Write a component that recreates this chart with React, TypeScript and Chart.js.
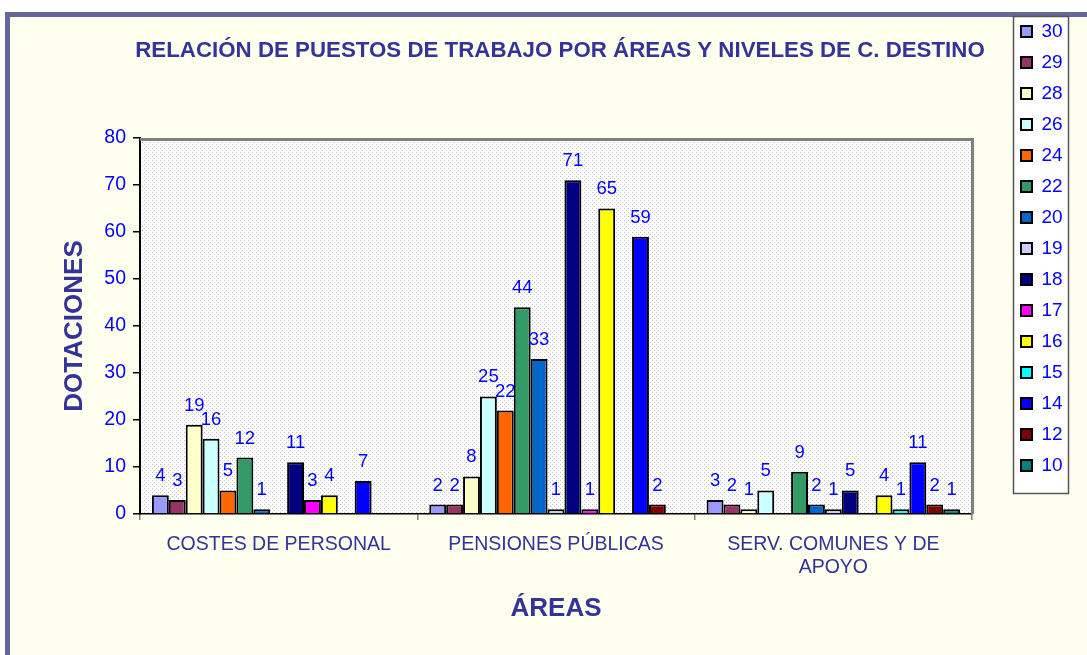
import React, { useEffect, useRef } from "react";
import { Chart, registerables } from "chart.js";

Chart.register(...registerables);

// ---- data ----
const categories: (string | string[])[] = [
  "COSTES DE PERSONAL",
  "PENSIONES PÚBLICAS",
  ["SERV. COMUNES Y DE", "APOYO"],
];
const seriesNames = ["30", "29", "28", "26", "24", "22", "20", "19", "18", "17", "16", "15", "14", "12", "10"];
const n30 = [4, 2, 3];
const n29 = [3, 2, 2];
const n28 = [19, 8, 1];
const n26 = [16, 25, 5];
const n24 = [5, 22, 0];
const n22 = [12, 44, 9];
const n20 = [1, 33, 2];
const n19 = [0, 1, 1];
const n18 = [11, 71, 5];
const n17 = [3, 1, 0];
const n16 = [4, 65, 4];
const n15 = [0, 0, 1];
const n14 = [7, 59, 11];
const n12 = [0, 2, 2];
const n10 = [0, 0, 1];
const seriesValues = [n30, n29, n28, n26, n24, n22, n20, n19, n18, n17, n16, n15, n14, n12, n10];
const seriesColors = [
  "#9999FF", "#993366", "#FFFFCC", "#CCFFFF", "#FF6600", "#339966", "#0066CC", "#CCCCFF",
  "#000080", "#FF00FF", "#FFFF00", "#00FFFF", "#0000FF", "#800000", "#008080",
];
const yMin = 0;
const yMax = 80;
const yStep = 10;

const TITLE = "RELACIÓN DE PUESTOS DE TRABAJO POR ÁREAS Y NIVELES DE C. DESTINO";
const Y_TITLE = "DOTACIONES";
const X_TITLE = "ÁREAS";

const FONT = "'Liberation Sans', Arial, Helvetica, sans-serif";
const DARK = "#333399";
const BLUE = "#0000FF";

export default function App() {
  const ref = useRef<HTMLCanvasElement>(null);

  useEffect(() => {
    const canvas = ref.current;
    if (!canvas) return;

    const pc = document.createElement("canvas");
    pc.width = 4;
    pc.height = 4;
    const pg = pc.getContext("2d")!;
    pg.fillStyle = "#ffffff";
    pg.fillRect(0, 0, 4, 4);
    pg.fillStyle = "#c4c4c4";
    pg.fillRect(0, 0, 1, 1);
    pg.fillRect(2, 2, 1, 1);

    const decor = {
      id: "decor",
      afterLayout(chart: any) {
        const a = chart.chartArea;
        const lg = chart.legend;
        if (lg) {
          lg.left = a.right + 37;
          lg.right = lg.left + 75;
        }
        const tb = chart.titleBlock;
        if (tb) {
          const cx = (a.left + a.right) / 2 + 4;
          tb.left = cx - 470;
          tb.right = cx + 470;
        }
      },
      beforeDraw(chart: any) {
        const { ctx, chartArea: a } = chart;
        const lg = chart.legend;
        ctx.save();
        if (lg) {
          const bx = lg.left + 4;
          const by = lg.top + 6;
          const bh = seriesNames.length * 31 + 12;
          ctx.fillStyle = "#ffffff";
          ctx.fillRect(bx, by, 56, bh);
          ctx.strokeStyle = "#555555";
          ctx.lineWidth = 1.5;
          ctx.strokeRect(bx + 0.5, by + 0.5, 55, bh);
        }
        const pat = ctx.createPattern(pc, "repeat");
        ctx.fillStyle = pat || "#f2f2f2";
        ctx.fillRect(a.left, a.top, a.right - a.left, a.bottom - a.top);
        ctx.restore();
      },
      beforeDatasetsDraw(chart: any) {
        const { ctx, chartArea: a } = chart;
        ctx.save();
        ctx.strokeStyle = "#808080";
        ctx.lineWidth = 3;
        ctx.beginPath();
        ctx.moveTo(a.left, a.top + 1.5);
        ctx.lineTo(a.right + 0.5, a.top + 1.5);
        ctx.lineTo(a.right + 0.5, a.bottom);
        ctx.stroke();
        ctx.restore();
      },
      afterDatasetsDraw(chart: any) {
        const { ctx } = chart;
        ctx.save();
        ctx.font = `18.5px ${FONT}`;
        ctx.fillStyle = BLUE;
        ctx.textAlign = "center";
        ctx.textBaseline = "alphabetic";
        chart.data.datasets.forEach((ds: any, i: number) => {
          const meta = chart.getDatasetMeta(i);
          meta.data.forEach((el: any, j: number) => {
            const v = ds.data[j];
            if (v === null || v === undefined) return;
            ctx.fillText(String(v), el.x, el.y - 14);
          });
        });
        ctx.restore();
      },
    };

    Chart.defaults.font.family = FONT;

    const chart = new Chart(canvas, {
      type: "bar",
      data: {
        labels: categories as any,
        datasets: seriesNames.map((name, i) => ({
          label: name,
          data: seriesValues[i].map((v) => (v === 0 ? null : v)),
          backgroundColor: seriesColors[i],
          borderColor: "#000000",
          borderWidth: 2,
          categoryPercentage: 0.914,
          barPercentage: 1,
        })),
      },
      options: {
        responsive: false,
        animation: false,
        devicePixelRatio: 1,
        layout: { padding: { top: 10, left: 0, right: 65, bottom: 0 } },
        plugins: {
          tooltip: { enabled: false },
          title: {
            display: true,
            text: TITLE,
            color: DARK,
            fullSize: false,
            font: { size: 22.3, weight: "bold", family: FONT },
            padding: { top: 27, bottom: 74.2 },
          },
          legend: {
            display: true,
            position: "right",
            align: "start",
            maxWidth: 50,
            labels: {
              boxWidth: 11,
              boxHeight: 11,
              padding: 12,
              color: BLUE,
              font: { size: 19, family: FONT },
            },
          },
        },
        scales: {
          x: {
            afterFit: (s: any) => {
              s.height = 141;
            },
            border: { display: true, color: "#000000", width: 1.5 },
            grid: {
              display: true,
              offset: true,
              drawOnChartArea: false,
              drawTicks: true,
              tickLength: 6,
              color: "#808080",
              lineWidth: 1.5,
            },
            ticks: {
              color: DARK,
              font: { size: 19.5, family: FONT },
              padding: 13,
              maxRotation: 0,
              minRotation: 0,
              autoSkip: false,
            },
            title: {
              display: true,
              text: X_TITLE,
              color: DARK,
              font: { size: 26, weight: "bold", family: FONT },
              padding: { top: 0, bottom: 30.5 },
            },
          },
          y: {
            min: yMin,
            max: yMax,
            afterFit: (s: any) => {
              s.width = 140;
            },
            border: { display: true, color: "#000000", width: 2 },
            grid: {
              display: true,
              drawOnChartArea: false,
              drawTicks: true,
              tickLength: 7,
              color: "#000000",
              lineWidth: 1.5,
            },
            ticks: {
              stepSize: yStep,
              color: BLUE,
              font: { size: 19.5, family: FONT },
              padding: 7,
            },
            title: {
              display: true,
              text: Y_TITLE,
              color: DARK,
              font: { size: 26, weight: "bold", family: FONT },
              padding: { top: 59.4, bottom: 0 },
            },
          },
        },
      },
      plugins: [decor],
    } as any);

    return () => chart.destroy();
  }, []);

  return (
    <div
      style={{
        position: "absolute",
        left: 0,
        top: 0,
        width: 1087,
        height: 655,
        overflow: "hidden",
        background: "#ffffff",
      }}
    >
      <div
        style={{
          position: "absolute",
          left: 5,
          top: 12,
          width: 1200,
          height: 800,
          borderLeft: "5px solid #666699",
          borderTop: "5px solid #666699",
          background: "#FFFFF0",
        }}
      />
      <canvas
        ref={ref}
        width={1087}
        height={655}
        style={{ position: "absolute", left: 0, top: 0, width: 1087, height: 655, display: "block" }}
      />
    </div>
  );
}
